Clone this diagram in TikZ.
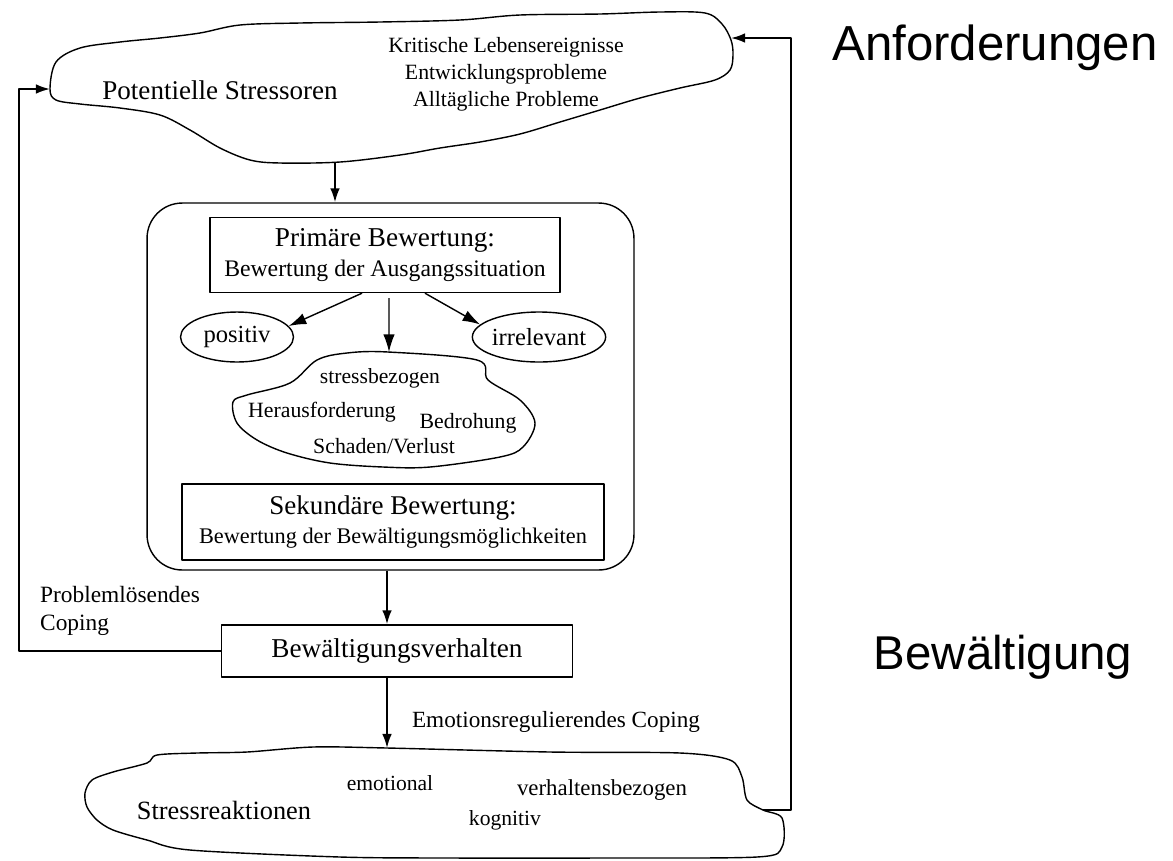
\documentclass[tikz,border=0pt]{standalone}
\usepackage{fontspec}
\setmainfont{Liberation Serif}
\newfontfamily\arial{Liberation Sans}
\usetikzlibrary{shapes.geometric,arrows.meta}
\newcommand\fsz[2]{\fontsize{#1}{#2}\selectfont}
\begin{document}
\begin{tikzpicture}[x=0.02cm,y=-0.02cm,line join=round,
  box/.style={draw,line width=0.8pt,align=center,inner sep=0pt},
  oval/.style={draw,ellipse,line width=0.8pt,inner sep=0pt,font=\fsz{14}{16}},
  arr/.style={-{Latex[length=8pt,width=5.5pt]},line width=1.1pt},
  sarr/.style={-{Latex[length=10pt,width=6.5pt]},line width=0.8pt},
  rim/.style={line width=0.8pt}]
\useasboundingbox (0,0) rectangle (1173,860);
\draw[rim] plot[smooth cycle,tension=0.55] coordinates {(50,89) (56,62) (80,48) (120,42) (160,38) (200,33) (240,25) (300,23) (380,22) (460,20) (520,15) (600,14) (660,12) (705,13) (722,24) (731,40) (733,55) (730,70) (715,80) (680,88) (640,98) (600,110) (560,122) (520,134) (480,142) (440,148) (400,155) (340,162) (280,163) (250,160) (220,148) (190,130) (160,115) (120,108) (80,104) (56,100)};
\draw[rim] plot[smooth cycle,tension=0.55] coordinates {(388,352) (477,360) (488,380) (520,400) (535,423) (523,447) (500,457) (430,467) (383,467) (330,463) (287,453) (257,440) (237,423) (233,402) (247,395) (290,383) (317,360) (347,353)};
\draw[rim] plot[smooth cycle,tension=0.5] coordinates {(92,780) (113,772) (147,763) (157,755) (197,753) (247,752) (313,747) (387,748) (550,752) (680,753) (730,760) (742,777) (747,800) (763,810) (782,818) (782,847) (757,857) (600,858) (450,858) (340,857) (190,850) (147,840) (113,830) (97,820) (87,807) (85,793)};
\coordinate (ctl) at (50,89);
\coordinate (ctr) at (731,38);
\coordinate (ctb) at (335,163);
\coordinate (stop) at (389,352);
\coordinate (cbt) at (387,748);
\coordinate (cbr) at (763,810);
\coordinate (lft) at (19,0);
\coordinate (rgt) at (791,0);
\node[font=\fsz{15.4}{17}] (pot) at (220,90) {Potentielle Stressoren};
\node[align=center,font=\fsz{12.4}{15.3}] (anl) at (506,74) {Kritische Lebensereignisse\\Entwicklungsprobleme\\Alltägliche Probleme};
\node[font=\arial\fsz{28}{32}] (anf) at (995,48) {Anforderungen};
\node[font=\arial\fsz{27}{32}] (bwg) at (1003,657) {Bewältigung};
\node[draw,line width=0.8pt,rounded corners=20pt,minimum width=9.74cm,minimum height=7.34cm] (frame) at (390.5,386.5) {};
\node[box,minimum width=7cm,minimum height=1.5cm] (prim) at (385,255) {\fsz{15.5}{17}Primäre Bewertung:\\[3pt]\fsz{13.5}{17}Bewertung der Ausgangssituation};
\node[oval,minimum width=2.26cm,minimum height=1cm] (pos) at (237,337) {positiv};
\node[oval,minimum width=2.46cm,minimum height=1cm] (irr) at (539,337) {irrelevant};
\node[font=\fsz{12.3}{14}] (sb) at (380,378) {stressbezogen};
\node[font=\fsz{12.4}{14}] (her) at (322,412) {Herausforderung};
\node[font=\fsz{12.4}{14}] (bed) at (468,423) {Bedrohung};
\node[font=\fsz{12.4}{14}] (sch) at (384,446) {Schaden/Verlust};
\node[box,minimum width=8.44cm,minimum height=1.52cm] (sek) at (393,522) {\fsz{15.4}{17}Sekundäre Bewertung:\\[3pt]\fsz{12.7}{17}Bewertung der Bewältigungsmöglichkeiten};
\node[box,minimum width=7.02cm,minimum height=1.04cm,font=\fsz{15.5}{17}] (bew) at (397,651) {Bewältigungsverhalten};
\node[anchor=west,align=left,font=\fsz{13.3}{15.5}] (pl) at (34,611) {Problemlösendes\\Coping};
\node[font=\fsz{13.2}{15}] (erc) at (556,722) {Emotionsregulierendes Coping};
\node[font=\fsz{15}{17}] (sr) at (224,810) {Stressreaktionen};
\node[font=\fsz{12.3}{14}] (emo) at (390,783) {emotional};
\node[font=\fsz{13}{14}] (ver) at (602,790) {verhaltensbezogen};
\node[font=\fsz{12.3}{14}] (kog) at (505,820) {kognitiv};
\draw[arr] (ctb) -- (ctb |- frame.north);
\draw[sarr] ([xshift=-0.46cm]prim.south) -- (pos.12);
\draw[sarr] ([xshift=0.08cm,yshift=-0.1cm]prim.south) -- (stop);
\draw[sarr] ([xshift=0.8cm]prim.south) -- (irr.168);
\draw[arr] (frame.south -| cbt) -- (bew.north -| cbt);
\draw[arr] (bew.south -| cbt) -- (cbt);
\draw[arr] (bew.west) -- (bew.west -| lft) |- (ctl);
\draw[arr] (cbr) -- (cbr -| rgt) |- (ctr);
\end{tikzpicture}
\end{document}
